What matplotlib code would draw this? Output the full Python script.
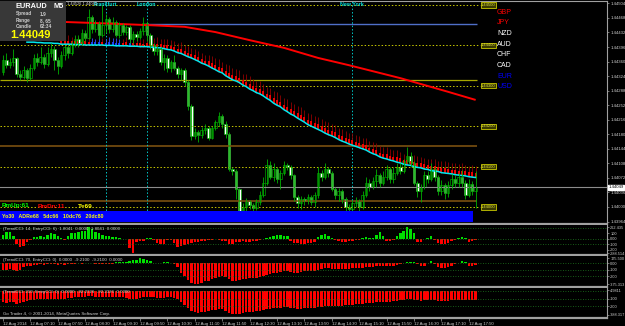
import matplotlib
matplotlib.use("Agg")
import matplotlib.pyplot as plt
import numpy as np

plt.rcParams['font.family'] = ['Liberation Sans', 'DejaVu Sans']

# ---- data: EURAUD M5, 12 Aug 2014, bars from 06:30 to 18:00 ----
first_open = 1.44334
close = [
    1.44364, 1.44352, 1.44358, 1.44370, 1.44330, 1.44322, 1.44340, 1.44320, 1.44345, 1.44370,
    1.44360, 1.44372, 1.44355, 1.44380, 1.44392, 1.44365, 1.44350, 1.44375, 1.44395, 1.44380,
    1.44400, 1.44415, 1.44405, 1.44430, 1.44418, 1.44470, 1.44440, 1.44455, 1.44425, 1.44450,
    1.44465, 1.44440, 1.44458, 1.44425, 1.44450, 1.44432, 1.44445, 1.44415, 1.44428, 1.44420,
    1.44435, 1.44455, 1.44425, 1.44400, 1.44385, 1.44392, 1.44360, 1.44370, 1.44345, 1.44358,
    1.44345, 1.44330, 1.44340, 1.44310, 1.44250, 1.44175, 1.44185, 1.44178, 1.44190, 1.44195,
    1.44172, 1.44195, 1.44210, 1.44225, 1.44205, 1.44180, 1.44095, 1.44088, 1.44045, 1.43990,
    1.44000, 1.44015, 1.44005, 1.43998, 1.44012, 1.44030, 1.44060, 1.44105, 1.44075, 1.44095,
    1.44070, 1.44085, 1.44105, 1.44100, 1.44078, 1.44025, 1.44010, 1.44020, 1.44015, 1.44025,
    1.44012, 1.44030, 1.44085, 1.44075, 1.44095, 1.44085, 1.44045, 1.44030, 1.44040, 1.44020,
    1.44000, 1.43995, 1.44010, 1.44015, 1.44000, 1.44030, 1.44060, 1.44050, 1.44065, 1.44080,
    1.44060, 1.44075, 1.44095, 1.44070, 1.44085, 1.44100, 1.44090, 1.44115, 1.44125, 1.44110,
    1.44060, 1.44040, 1.44050, 1.44080, 1.44070, 1.44095, 1.44075, 1.44040, 1.44055, 1.44035,
    1.44055, 1.44070, 1.44060, 1.44075, 1.44060, 1.44030, 1.44058, 1.44040, 1.44049,
]
high = [
    1.44376, 1.44380, 1.44368, 1.44392, 1.44372, 1.44340, 1.44348, 1.44345, 1.44355, 1.44378,
    1.44380, 1.44395, 1.44378, 1.44395, 1.44405, 1.44398, 1.44372, 1.44385, 1.44402, 1.44400,
    1.44410, 1.44425, 1.44425, 1.44440, 1.44438, 1.44490, 1.44475, 1.44462, 1.44460, 1.44500,
    1.44478, 1.44470, 1.44470, 1.44462, 1.44458, 1.44455, 1.44450, 1.44450, 1.44435, 1.44435,
    1.44442, 1.44470, 1.44460, 1.44430, 1.44405, 1.44400, 1.44395, 1.44378, 1.44375, 1.44365,
    1.44375, 1.44350, 1.44345, 1.44345, 1.44315, 1.44255, 1.44195, 1.44190, 1.44198, 1.44205,
    1.44200, 1.44200, 1.44215, 1.44235, 1.44230, 1.44212, 1.44185, 1.44100, 1.44095, 1.44048,
    1.44010, 1.44022, 1.44018, 1.44010, 1.44020, 1.44040, 1.44075, 1.44120, 1.44115, 1.44110,
    1.44100, 1.44092, 1.44115, 1.44110, 1.44105, 1.44082, 1.44030, 1.44028, 1.44025, 1.44032,
    1.44030, 1.44038, 1.44100, 1.44092, 1.44110, 1.44100, 1.44090, 1.44050, 1.44048, 1.44045,
    1.44025, 1.44008, 1.44018, 1.44025, 1.44020, 1.44040, 1.44075, 1.44070, 1.44075, 1.44095,
    1.44085, 1.44090, 1.44105, 1.44100, 1.44098, 1.44110, 1.44110, 1.44120, 1.44148, 1.44135,
    1.44115, 1.44065, 1.44058, 1.44090, 1.44090, 1.44108, 1.44100, 1.44080, 1.44068, 1.44060,
    1.44065, 1.44082, 1.44080, 1.44085, 1.44092, 1.44068, 1.44070, 1.44065, 1.44090,
]
low = [
    1.44327, 1.44345, 1.44345, 1.44350, 1.44322, 1.44315, 1.44318, 1.44310, 1.44315, 1.44340,
    1.44350, 1.44355, 1.44345, 1.44350, 1.44372, 1.44340, 1.44330, 1.44345, 1.44365, 1.44370,
    1.44375, 1.44395, 1.44395, 1.44400, 1.44410, 1.44415, 1.44430, 1.44432, 1.44415, 1.44420,
    1.44430, 1.44430, 1.44432, 1.44420, 1.44418, 1.44425, 1.44425, 1.44405, 1.44405, 1.44412,
    1.44415, 1.44425, 1.44410, 1.44392, 1.44375, 1.44375, 1.44352, 1.44340, 1.44335, 1.44335,
    1.44340, 1.44320, 1.44315, 1.44300, 1.44240, 1.44165, 1.44168, 1.44160, 1.44170, 1.44180,
    1.44165, 1.44168, 1.44190, 1.44200, 1.44195, 1.44172, 1.44090, 1.44080, 1.44020, 1.43985,
    1.43985, 1.43990, 1.43995, 1.43990, 1.43993, 1.44005, 1.44025, 1.44055, 1.44070, 1.44065,
    1.44060, 1.44045, 1.44080, 1.44092, 1.44070, 1.44015, 1.43998, 1.43995, 1.44005, 1.44008,
    1.44005, 1.44000, 1.44022, 1.44065, 1.44070, 1.44075, 1.44040, 1.44020, 1.44015, 1.44010,
    1.43985, 1.43985, 1.43990, 1.44000, 1.43982, 1.43995, 1.44025, 1.44040, 1.44045, 1.44050,
    1.44050, 1.44055, 1.44068, 1.44060, 1.44060, 1.44078, 1.44082, 1.44085, 1.44110, 1.44100,
    1.44055, 1.44025, 1.44012, 1.44045, 1.44060, 1.44065, 1.44065, 1.44030, 1.44030, 1.44020,
    1.44025, 1.44045, 1.44050, 1.44050, 1.44050, 1.44020, 1.44025, 1.44030, 1.43998,
]

# cyan moving average, starts at bar 7
ma_start = 7
ma_fast = [
    1.44408, 1.44408, 1.44408, 1.44407, 1.44407, 1.44406, 1.44406, 1.44406, 1.44405, 1.44405,
    1.44403, 1.44403, 1.44403, 1.44403, 1.44402, 1.44402, 1.44402, 1.44401, 1.44401, 1.44401,
    1.44401, 1.44401, 1.44401, 1.44400, 1.44400, 1.44400, 1.44399, 1.44399, 1.44399, 1.44399,
    1.44398, 1.44398, 1.44398, 1.44397, 1.44397, 1.44397, 1.44396, 1.44395, 1.44394, 1.44394,
    1.44392, 1.44390, 1.44389, 1.44386, 1.44382, 1.44380, 1.44376, 1.44372, 1.44369, 1.44365,
    1.44361, 1.44356, 1.44353, 1.44349, 1.44344, 1.44340, 1.44335, 1.44332, 1.44325, 1.44320,
    1.44315, 1.44312, 1.44308, 1.44302, 1.44298, 1.44292, 1.44288, 1.44283, 1.44280, 1.44275,
    1.44269, 1.44264, 1.44257, 1.44252, 1.44248, 1.44241, 1.44236, 1.44230, 1.44226, 1.44220,
    1.44215, 1.44210, 1.44204, 1.44200, 1.44196, 1.44192, 1.44188, 1.44183, 1.44179, 1.44176,
    1.44172, 1.44167, 1.44163, 1.44160, 1.44156, 1.44153, 1.44150, 1.44147, 1.44144, 1.44141,
    1.44136, 1.44132, 1.44129, 1.44124, 1.44121, 1.44119, 1.44116, 1.44114, 1.44111, 1.44109,
    1.44106, 1.44104, 1.44103, 1.44100, 1.44098, 1.44097, 1.44094, 1.44093, 1.44090, 1.44089,
    1.44088, 1.44085, 1.44084, 1.44083, 1.44082, 1.44080, 1.44079, 1.44078, 1.44077, 1.44075,
    1.44074, 1.44073,
]

# trend ribbon above the cyan line (points), starts at bar 17
rib_start = 17
ribbon = [
    20, 18, 22, 19, 21, 20, 17, 22, 20, 18, 16, 19, 18, 17, 20, 18, 19, 17, 18, 21,
    20, 19, 22, 20, 18, 21, 20, 24, 26, 23, 25, 27, 24, 26, 25, 28, 24, 26, 25, 27,
    26, 25, 24, 28, 30, 29, 31, 28, 30, 32, 29, 30, 31, 28, 30, 32, 30, 29, 31, 30,
    28, 31, 30, 32, 29, 30, 31, 30, 28, 30, 32, 31, 29, 30, 28, 31, 30, 29, 32, 30,
    31, 28, 30, 29, 28, 30, 27, 29, 28, 30, 27, 28, 29, 27, 28, 30, 28, 27, 29, 28,
    26, 28, 27, 29, 28, 27, 28, 26, 28, 29, 27, 28, 30, 28, 27, 29, 28, 30, 28, 27,
    29, 28,
]
ribbon_blue = [26, 27, 28, 30, 31, 32, 33, 34, 37]

# slow red moving average (vertices)
ma_slow_bar = [18, 28, 43, 53, 62, 72, 82, 92, 101, 116, 130, 138]
ma_slow = [1.44458, 1.44455, 1.44450, 1.44446, 1.44433, 1.44413, 1.44394, 1.44369,
           1.44351, 1.44319, 1.44285, 1.44265]

round_levels = [1.44500, 1.44400, 1.44300, 1.44200, 1.44100, 1.44000]
day_open = 1.44453
olive_level = 1.44314
brown_levels = [1.44151, 1.44015]
bid = 1.44049

sessions = {'Frankfurt': 30, 'London': 42, 'New York': 102}

price_ticks = [1.43964, 1.44000, 1.44036, 1.44072, 1.44108, 1.44144, 1.44180, 1.44216,
               1.44252, 1.44288, 1.44324, 1.44360, 1.44396, 1.44432, 1.44468, 1.44504]

time_labels = ['12 Aug 2014', '12 Aug 07:10', '12 Aug 07:50', '12 Aug 08:30', '12 Aug 09:10',
               '12 Aug 09:50', '12 Aug 10:30', '12 Aug 11:10', '12 Aug 11:50', '12 Aug 12:30',
               '12 Aug 13:10', '12 Aug 13:50', '12 Aug 14:30', '12 Aug 15:10', '12 Aug 15:50',
               '12 Aug 16:30', '12 Aug 17:10', '12 Aug 17:50']

cci14 = [
    80, 120, 130, 60, -100, -150, -120, -60, -20, 30,
    40, 50, 30, 80, 100, 90, 60, 10, -20, 60,
    100, 110, 130, 150, 140, 210, 190, 120, 100, 80,
    60, 50, 40, 30, 10, 5, 0, -170, -250, -60,
    -40, -30, 20, 20, -10, -80, -100, -90, -20, -10,
    -80, -140, -130, -110, -90, -80, -60, -60, -40, -30,
    -20, -10, 0, -20, -30, -40, -100, -90, -60, -50,
    -40, -50, -60, -40, -30, -20, -5, 10, 40, 60,
    80, 70, 60, 50, -30, -70, -80, -100, -90, -80,
    -70, -50, 40, 70, 90, 60, 20, -20, -40, -50,
    -60, -40, -30, -20, -10, 10, 30, 20, 10, 80,
    120, 60, -30, -40, -10, 60, 100, 150, 220, 180,
    100, -60, -50, 0, 10, 60, -20, -80, -100, -90,
    -70, -40, -10, 10, 40, 10, -50, -40, -10,
]
cci70 = [
    -100, -110, -90, -100, -120, -110, -60, -50, -40, -30,
    -30, -20, -30, -20, -10, -20, -30, -20, -30, -20,
    -10, -10, -5, -10, -5, 0, -5, -10, -20, -15,
    -10, -20, -10, 10, 20, 10, 20, 30, 40, 50,
    70, 60, 50, 30, 5, 0, -5, 10, 15, 5,
    -10, -60, -150, -200, -260, -300, -330, -320, -300, -280,
    -270, -250, -230, -210, -200, -220, -250, -270, -270, -260,
    -250, -240, -235, -230, -225, -215, -200, -180, -170, -160,
    -150, -140, -130, -130, -140, -150, -150, -140, -130, -130,
    -120, -120, -100, -90, -80, -80, -90, -90, -90, -90,
    -90, -85, -80, -80, -80, -70, -60, -60, -60, -50,
    -40, -40, -50, -50, -40, -30, -20, 0, 20, 15,
    10, -20, -50, -40, 0, 30, -20, -60, -80, -80,
    -60, -40, -10, 0, 30, 10, -50, -40, -30,
]
cci210 = [
    -150, -160, -150, -150, -170, -160, -140, -130, -120, -120,
    -110, -110, -110, -100, -100, -110, -110, -100, -100, -90,
    -90, -85, -80, -80, -75, -70, -70, -75, -80, -80,
    -75, -80, -80, -80, -85, -85, -90, -100, -110, -100,
    -90, -80, -80, -80, -85, -90, -95, -90, -85, -85,
    -90, -110, -150, -190, -230, -260, -280, -290, -285, -275,
    -265, -255, -250, -245, -245, -260, -290, -310, -310, -300,
    -290, -285, -280, -275, -270, -265, -255, -245, -235, -230,
    -225, -220, -215, -215, -220, -230, -235, -235, -230, -230,
    -225, -220, -215, -210, -200, -195, -195, -195, -195, -195,
    -190, -185, -180, -175, -175, -170, -165, -160, -155, -150,
    -145, -140, -140, -140, -135, -130, -125, -120, -110, -110,
    -115, -125, -130, -125, -120, -115, -120, -130, -135, -135,
    -130, -125, -120, -120, -115, -115, -120, -120, -120,
]

panel_titles = [
    '(TrendCCI: 14, EntryCCI: 6)  1.8041  0.0000  1.8041  0.0000',
    '(TrendCCI: 70, EntryCCI: 0)  0.0000  -9.2100  -9.2100  0.0000',
    '(TrendCCI: 210, EntryCCI: 0)  0.0000  -92.2326  -92.2326  0.0000',
]
panel_ticks = [
    ([215, 100, 0, -100, -200, -262], ['262.435', '100', '0.00', '-100', '-200', '-288.514']),
    ([70, 0, -100, -200, -330], ['175.500', '0.00', '-100', '-200', '-375.313']),
    ([10, -100, -200, -320], ['4.9811', '-100', '-200', '-388.317']),
]
panel_levels = [[200, 0, -100], [0, -100, -200], [0, -100, -200]]

currencies = [('GBP', '#ff0000'), ('JPY', '#ff0000'), ('NZD', '#ffffff'), ('AUD', '#ffffff'),
              ('CHF', '#ffffff'), ('CAD', '#ffffff'), ('EUR', '#0000ff'), ('USD', '#0000ff')]

# ---- drawing ----
W, H = 625, 326
GREEN = '#00b000'
LIME = '#00e000'
GRID = '#a0a0a0'


def rect(x0, y0, x1, y1):
    return [x0 / W, 1 - y1 / H, (x1 - x0) / W, (y1 - y0) / H]


def ftext(x, y, s, **kw):
    fig.text(x / W, 1 - y / H, s, va='center', **kw)


fig = plt.figure(figsize=(W / 100, H / 100), dpi=100, facecolor='black')
ax = fig.add_axes(rect(0, 1, 607, 224))
p1 = fig.add_axes(rect(0, 225, 607, 255), sharex=ax)
p2 = fig.add_axes(rect(0, 256, 607, 287), sharex=ax)
p3 = fig.add_axes(rect(0, 288, 607, 318), sharex=ax)

n = len(close)
idx = np.arange(n)
close = np.array(close)
high = np.array(high)
low = np.array(low)
opens = np.r_[first_open, close[:-1]]

for a in (ax, p1, p2, p3):
    a.set_facecolor('black')
    for s in ('left', 'top'):
        a.spines[s].set_visible(False)
    a.spines['right'].set_color(GRID)
    a.spines['bottom'].set_color(GRID)
    a.spines['bottom'].set_linewidth(1.6)
    a.yaxis.tick_right()
    a.tick_params(axis='y', colors=GRID, labelcolor='#d0d0d0', labelsize=3.1,
                  length=1.5, width=0.5, pad=0.8)
    a.tick_params(axis='x', length=0, labelbottom=False)
ax.spines['top'].set_visible(True)
ax.spines['top'].set_color(GRID)

ax.set_xlim(-0.876, 176.35)
ax.set_ylim(1.439579, 1.445099)

# horizontal levels
ax.hlines(round_levels, -1, 139.3, colors='#c8c800', linestyles=(0, (1.5, 2)), lw=0.7)
for lv in round_levels:
    ax.text(139.6, lv, '%.5f' % lv, fontsize=3, color='#e0e040', va='center', ha='left',
            bbox=dict(boxstyle='square,pad=0.15', fc='#3a3a00', ec='#c8c800', lw=0.6))
ax.hlines(olive_level, -1, 138.3, colors='#a8a800', lw=0.9)
ax.hlines(brown_levels, -1, 138.3, colors='#7a5010', lw=1.2)
ax.hlines(day_open, 42, 138.3, colors='#4f6fc8', lw=1)
ax.axhline(bid, color='#8c8c8c', lw=0.8)

for name, b in sessions.items():
    ax.axvline(b, color='#00c8c8', lw=0.7, ls=(0, (1.5, 2)))
    ax.text(b, 0.985, name, transform=ax.get_xaxis_transform(), ha='center', va='center',
            fontsize=3.8, color='#00e0e0', fontweight='bold')

# ribbon + averages
ma_fast = np.array(ma_fast)
ribbon = np.array(ribbon) * 1e-5
rib_idx = np.arange(rib_start, n)
rib_base = ma_fast[rib_start - ma_start:]
rib_col = ['#3050ff' if i in ribbon_blue else '#900000' for i in rib_idx]
rib_col2 = ['#2040ff' if i in ribbon_blue else '#ff0000' for i in rib_idx]
ax.vlines(rib_idx, rib_base, rib_base + ribbon, colors=rib_col, lw=0.6)
ax.vlines(rib_idx, rib_base, rib_base + ribbon * 0.4, colors=rib_col2, lw=1.3)
ax.plot(ma_slow_bar, ma_slow, color='#ff0000', lw=1.4, solid_capstyle='butt')
ax.plot(np.arange(ma_start, n), ma_fast, color='#00e8f0', lw=1.1)

# candles
up = close >= opens
ax.vlines(idx, low, high, colors=GREEN, lw=0.6)
body_lo = np.minimum(opens, close)
body_h = np.maximum(np.abs(close - opens), 0.000012)
ax.bar(idx[up], body_h[up], bottom=body_lo[up], width=0.72, color='black',
       edgecolor=GREEN, lw=0.45)
ax.bar(idx[~up], body_h[~up], bottom=body_lo[~up], width=0.72, color='white',
       edgecolor=GREEN, lw=0.45)

ax.set_yticks(price_ticks)
ax.set_yticklabels(['%.5f' % p for p in price_ticks])
ax.text(1.002, bid, '%.5f' % bid, transform=ax.get_yaxis_transform(), fontsize=3.1,
        color='black', va='center', ha='left',
        bbox=dict(boxstyle='square,pad=0.1', fc='white', ec='white'))

# oscillator panels
ylims = [(-291, 254), (-369, 108), (-360, 40)]
for a, vals, lim, (tk, tl), lv, title in zip((p1, p2, p3), (cci14, cci70, cci210), ylims,
                                             panel_ticks, panel_levels, panel_titles):
    vals = np.array(vals)
    a.set_ylim(*lim)
    a.hlines(lv, -1, 178, colors='#1e7a1e', linestyles=(0, (1, 2)), lw=0.6)
    cols = np.where(vals > 0, LIME, '#ff0000')
    a.bar(idx, vals, width=0.72, color=cols, lw=0)
    a.set_yticks(tk)
    a.set_yticklabels(tl)
    a.tick_params(axis='y', labelsize=2.8)
    a.text(0.005, 0.86, title, transform=a.transAxes, fontsize=3.2, color='#d0d0d0',
           va='center', ha='left')

p3.text(0.005, 0.12, 'Go Trader 4, \u00a9 2001-2014, MetaQuotes Software Corp.',
        transform=p3.transAxes, fontsize=3.2, color='#d0d0d0', va='center')
p3.set_xticks(np.arange(0, n, 8))
p3.set_xticklabels(time_labels, ha='left')
p3.tick_params(axis='x', labelbottom=True, length=2, width=0.5, colors=GRID,
               labelcolor='#d0d0d0', labelsize=3.1, pad=1)

# info panel top left
fig.patches.append(plt.Rectangle((0, 1 - 41 / H), 66 / W, 40 / H, transform=fig.transFigure,
                                 fc='#383838', ec='none'))
ftext(16, 7, 'EURAUD', fontsize=5.3, color='white', fontweight='bold')
ftext(54, 7, 'M5', fontsize=5.3, color='white', fontweight='bold')
for k, (lab, val) in enumerate([('Spread', '1.9'), ('Range', '8, 65'), ('Candle', '02:34')]):
    ftext(16, 14 + 6.5 * k, lab, fontsize=3.4, color='#d0d0d0', fontweight='bold')
    ftext(40, 14 + 6.5 * k, val, fontsize=3.4, color='#d0d0d0', fontweight='bold')
ftext(10, 35.5, '1.44049', fontsize=8, color='#ffff00', fontweight='bold')
ftext(67, 4, '1.44526 1.44049', fontsize=2.8, color='#e0e0e0')

for k, (cur, col) in enumerate(currencies):
    ftext(497, 12 + 10.7 * k, cur, fontsize=5, color=col)

ftext(2, 206, 'RmUp:61', fontsize=4.6, color='#00ff00', fontweight='bold')
ftext(38, 206, 'RmDn:11', fontsize=4.6, color='#ff0000', fontweight='bold')
ftext(78, 206, 'T=69', fontsize=4.6, color='#ffff00', fontweight='bold')
fig.patches.append(plt.Rectangle((0, 1 - 222 / H), 473 / W, 11 / H, transform=fig.transFigure,
                                 fc='#0000ff', ec='none'))
ftext(2, 216.5, 'Yo30   ADRe68   5dc66   10dc76   20dc80', fontsize=3.8, color='#ffff00',
      fontweight='bold')

fig.savefig('out.png', dpi=100, facecolor='black')
